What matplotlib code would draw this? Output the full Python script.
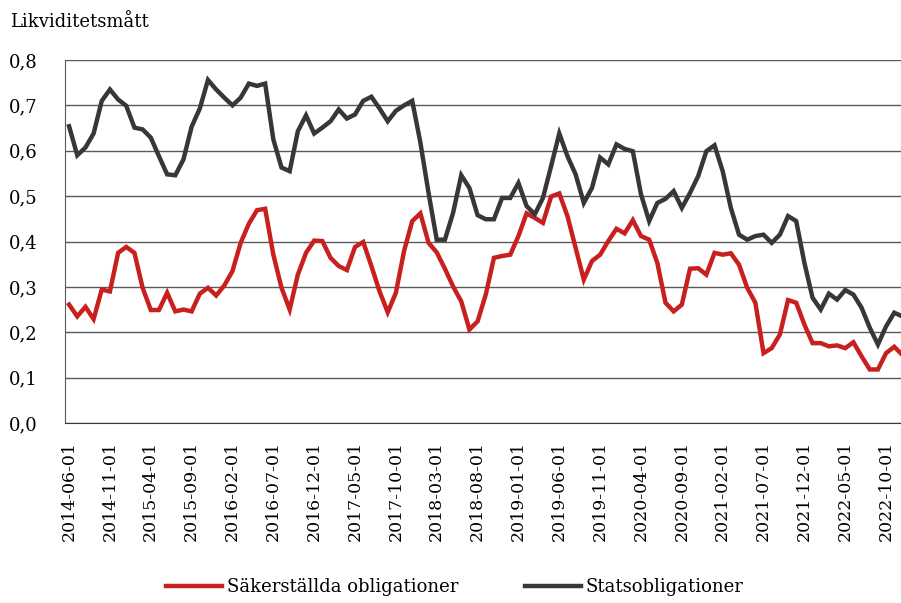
import pandas as pd
import matplotlib
matplotlib.use('Agg')
import matplotlib.pyplot as plt

plt.rc('font', family='DejaVu Serif')

# monthly observations, 2014-06 .. 2022-12
months = pd.date_range('2014-06-01', periods=103, freq='MS').strftime('%Y-%m-%d').tolist()

sakerstallda = [0.261, 0.235, 0.256, 0.229, 0.294, 0.290, 0.375, 0.388, 0.375, 0.298,
                0.249, 0.249, 0.287, 0.246, 0.250, 0.246, 0.285, 0.298, 0.281, 0.303,
                0.335, 0.397, 0.439, 0.469, 0.472, 0.371, 0.298, 0.250, 0.327, 0.375,
                0.402, 0.401, 0.364, 0.346, 0.337, 0.388, 0.399, 0.346, 0.290, 0.244,
                0.287, 0.379, 0.445, 0.462, 0.397, 0.376, 0.340, 0.301, 0.268, 0.206,
                0.224, 0.283, 0.364, 0.368, 0.371, 0.412, 0.462, 0.452, 0.441, 0.499,
                0.506, 0.456, 0.386, 0.316, 0.357, 0.371, 0.401, 0.428, 0.418, 0.447,
                0.412, 0.404, 0.353, 0.265, 0.246, 0.261, 0.340, 0.341, 0.327, 0.375,
                0.371, 0.374, 0.349, 0.298, 0.265, 0.154, 0.165, 0.195, 0.271, 0.265,
                0.217, 0.176, 0.176, 0.169, 0.171, 0.165, 0.178, 0.147, 0.118, 0.118,
                0.154, 0.168, 0.150]

stats = [0.654, 0.590, 0.607, 0.638, 0.710, 0.735, 0.713, 0.699, 0.651, 0.647,
         0.629, 0.588, 0.548, 0.546, 0.581, 0.653, 0.693, 0.756, 0.735, 0.717,
         0.700, 0.717, 0.748, 0.743, 0.748, 0.625, 0.563, 0.555, 0.643, 0.678,
         0.638, 0.651, 0.665, 0.691, 0.671, 0.680, 0.710, 0.719, 0.693, 0.665,
         0.688, 0.700, 0.710, 0.618, 0.507, 0.404, 0.404, 0.463, 0.546, 0.518,
         0.458, 0.449, 0.449, 0.496, 0.496, 0.529, 0.478, 0.460, 0.496, 0.566,
         0.638, 0.588, 0.548, 0.485, 0.518, 0.585, 0.570, 0.614, 0.604, 0.599,
         0.504, 0.445, 0.485, 0.494, 0.511, 0.474, 0.507, 0.544, 0.599, 0.612,
         0.555, 0.474, 0.415, 0.404, 0.412, 0.415, 0.397, 0.415, 0.456, 0.445,
         0.353, 0.276, 0.250, 0.285, 0.272, 0.293, 0.283, 0.254, 0.210, 0.173,
         0.213, 0.243, 0.235]

yticks = [0.0, 0.1, 0.2, 0.3, 0.4, 0.5, 0.6, 0.7, 0.8]
ytick_labels = ['0,0', '0,1', '0,2', '0,3', '0,4', '0,5', '0,6', '0,7', '0,8']

fig = plt.figure(figsize=(9.01, 6.03), dpi=100)
ax = fig.add_axes([65 / 901, 180 / 603, 836 / 901, 363 / 603])

x = list(range(len(months)))
ax.plot(x, sakerstallda, color='#C8201E', lw=3.2, label='Säkerställda obligationer',
        solid_joinstyle='miter')
ax.plot(x, stats, color='#3A3536', lw=3.2, label='Statsobligationer',
        solid_joinstyle='miter')

ax.set_xlim(-0.5, -0.5 + 836 / 8.17)
ax.set_ylim(0, 0.8)
ax.set_yticks(yticks)
ax.set_yticklabels(ytick_labels, fontsize=13)
ax.set_xticks(x[::5])
ax.set_xticklabels(months[::5], rotation=90, fontsize=12.5)
ax.tick_params(axis='both', length=0)
ax.tick_params(axis='y', pad=20)
ax.tick_params(axis='x', pad=13)

ax.grid(axis='y', color='#5a5a5a', lw=1)
ax.set_axisbelow(True)
for s in ['top', 'right']:
    ax.spines[s].set_visible(False)
ax.spines['left'].set_color('#5a5a5a')
ax.spines['bottom'].set_color('#3a3a3a')

fig.text(10 / 901, 1 - 22 / 603, 'Likviditetsmått', fontsize=13, va='center', ha='left')

fig.legend(loc='center', bbox_to_anchor=(0.505, 16 / 603), ncol=2, frameon=False,
           fontsize=13, handlelength=3.1, handletextpad=0.25, columnspacing=3.7)

fig.savefig('out.png', dpi=100)
